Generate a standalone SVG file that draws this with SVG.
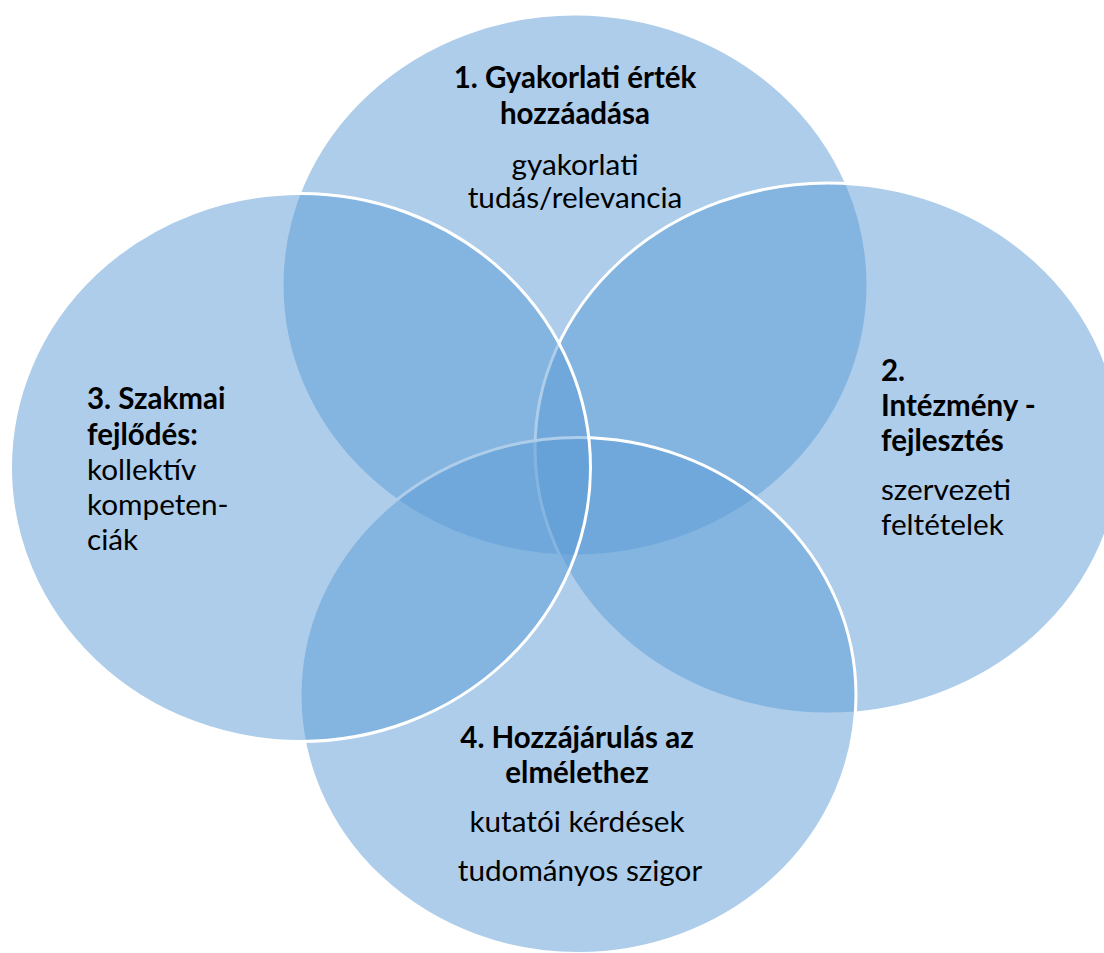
<svg xmlns="http://www.w3.org/2000/svg" width="1104" height="953" viewBox="0 0 1104 953">
  <style>
    .disc { fill: #5B9BD5; fill-opacity: 0.5; stroke: #FFFFFF; stroke-width: 3; }
    .head { font-family: Lato, "Liberation Sans", sans-serif; font-weight: bold; font-size: 29.5px; fill: #000000; }
    .body { font-family: Lato, "Liberation Sans", sans-serif; font-size: 29.7px; fill: #000000; }
    .mid { text-anchor: middle; }
  </style>
  <rect width="1104" height="953" fill="#FFFFFF"/>

  <!-- top disc -->
  <g id="node-1">
    <ellipse class="disc" cx="575" cy="285" rx="293" ry="271"/>
    <text class="head mid" x="575" y="88">1. Gyakorlati érték</text>
    <text class="head mid" x="575" y="124">hozzáadása</text>
    <text class="body mid" x="575" y="175">gyakorlati</text>
    <text class="body mid" x="575" y="208">tudás/relevancia</text>
  </g>

  <!-- right disc -->
  <g id="node-2">
    <ellipse class="disc" cx="828" cy="448.5" rx="293" ry="265.5"/>
    <text class="head" x="881" y="381">2.</text>
    <text class="head" x="881" y="416">Intézmény -</text>
    <text class="head" x="881" y="451">fejlesztés</text>
    <text class="body" x="881" y="500">szervezeti</text>
    <text class="body" x="881" y="535">feltételek</text>
  </g>

  <!-- bottom disc -->
  <g id="node-4">
    <ellipse class="disc" cx="578" cy="695.5" rx="278" ry="258"/>
    <text class="head mid" x="577" y="748">4. Hozzájárulás az</text>
    <text class="head mid" x="577" y="783">elmélethez</text>
    <text class="body mid" x="577" y="832">kutatói kérdések</text>
    <text class="body mid" x="580" y="881">tudományos szigor</text>
  </g>

  <!-- left disc -->
  <g id="node-3">
    <ellipse class="disc" cx="300.5" cy="467.5" rx="290" ry="274"/>
    <text class="head" x="87" y="409">3. Szakmai</text>
    <text class="head" x="87" y="445">fejlődés:</text>
    <text class="body" x="87" y="480">kollektív</text>
    <text class="body" x="87" y="515">kompeten-</text>
    <text class="body" x="87" y="550">ciák</text>
  </g>

  <!-- no connectors in this diagram -->
  <g id="connectors"/>
</svg>
